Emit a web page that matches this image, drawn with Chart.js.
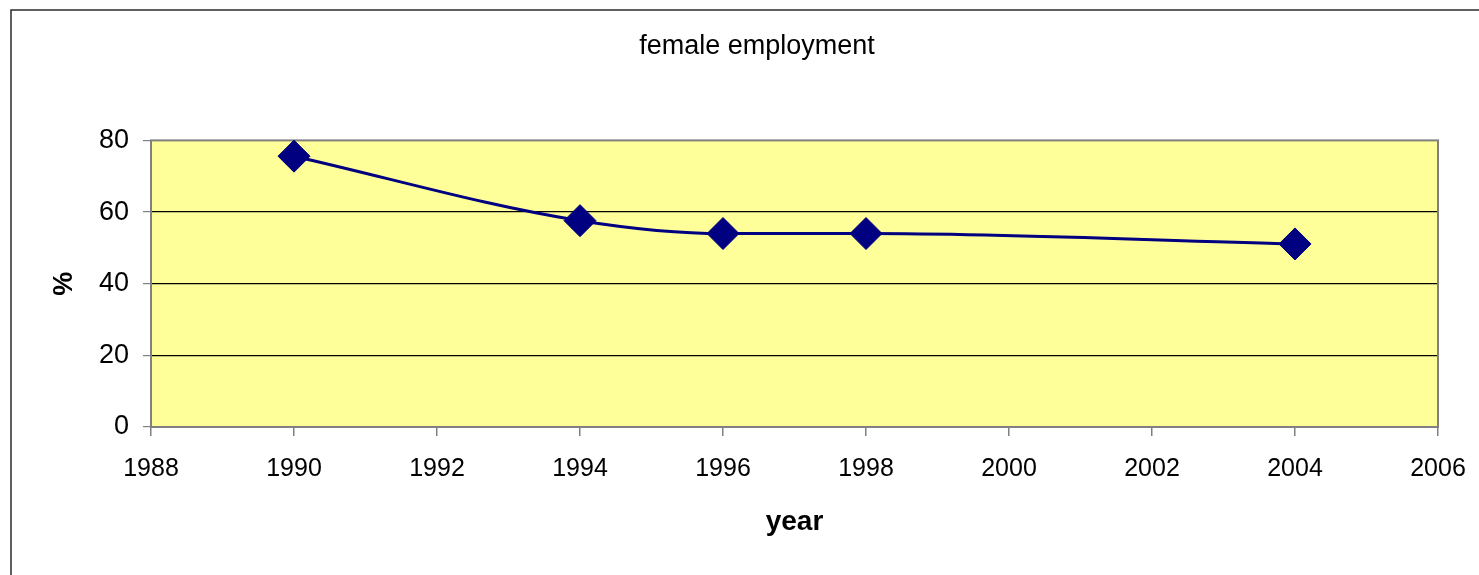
<!DOCTYPE html>
<html>
<head>
<meta charset="utf-8">
<script src="https://cdn.jsdelivr.net/npm/chart.js@4.4.1/dist/chart.umd.min.js"></script>
<style>
  html, body { margin: 0; padding: 0; background: #fff; }
  #chart { display: block; }
</style>
</head>
<body>
<canvas id="chart" width="1479" height="575"></canvas>
<script>
// data
const years = [1990, 1994, 1996, 1998, 2004];
const employment = [75.6, 57.6, 54.0, 54.0, 51.1];
const xTicks = [1988, 1990, 1992, 1994, 1996, 1998, 2000, 2002, 2004, 2006];
const yTicks = [0, 20, 40, 60, 80];

const baseFont = '"Liberation Sans", Arial, sans-serif';

// yellow plot area, grey plot border and the outer frame
const plotFrame = {
  id: "plotFrame",
  beforeDraw(chart) {
    const { ctx, chartArea: a, width, height } = chart;
    ctx.save();
    ctx.fillStyle = "#ffffff";
    ctx.fillRect(0, 0, width, height);
    ctx.strokeStyle = "#2b2b2b";
    ctx.lineWidth = 1.5;
    ctx.beginPath();
    ctx.moveTo(11, height);
    ctx.lineTo(11, 10);
    ctx.lineTo(width, 10);
    ctx.stroke();
    ctx.fillStyle = "#ffff99";
    ctx.fillRect(a.left, a.top, a.right - a.left, a.bottom - a.top);
    ctx.restore();
  },
  beforeDatasetsDraw(chart) {
    const { ctx, chartArea: a } = chart;
    ctx.save();
    ctx.strokeStyle = "#808080";
    ctx.lineWidth = 2;
    ctx.strokeRect(a.left, a.top, a.right - a.left, a.bottom - a.top);
    ctx.restore();
  },
};

const ctx = document.getElementById("chart").getContext("2d");
new Chart(ctx, {
  type: "line",
  data: {
    datasets: [
      {
        label: "female employment",
        data: years.map((y, i) => ({ x: y, y: employment[i] })),
        borderColor: "#000080",
        backgroundColor: "#000080",
        borderWidth: 3,
        cubicInterpolationMode: "monotone",
        pointStyle: "rectRot",
        pointRadius: 16,
        pointBorderWidth: 1,
        pointBackgroundColor: "#000080",
        pointBorderColor: "#000080",
        clip: false,
      },
    ],
  },
  options: {
    responsive: false,
    animation: false,
    layout: { padding: { left: 35, right: 0, top: 0, bottom: 0 } },
    plugins: {
      legend: { display: false },
      tooltip: { enabled: false },
      title: {
        display: true,
        text: "female employment",
        color: "#000",
        font: { family: baseFont, size: 27, weight: "normal", lineHeight: 1.2 },
        padding: { top: 30, bottom: 78 },
      },
    },
    scales: {
      x: {
        type: "linear",
        min: 1988,
        max: 2006,
        afterBuildTicks: (scale) => {
          scale.ticks = xTicks.map((v) => ({ value: v }));
        },
        afterFit: (scale) => {
          scale.height = 148;
          // edge labels may overhang; don't let them shrink the plot
          scale.paddingLeft = 0;
          scale.paddingRight = 0;
        },
        grid: {
          drawOnChartArea: false,
          drawTicks: true,
          tickLength: 9,
          tickColor: "#808080",
          lineWidth: 1.5,
        },
        border: { display: false },
        ticks: {
          color: "#000",
          padding: 18,
          maxRotation: 0,
          autoSkip: false,
          font: { family: baseFont, size: 25 },
          callback: (v) => String(v),
        },
        title: {
          display: true,
          text: "year",
          color: "#000",
          font: { family: baseFont, size: 28, weight: "bold", lineHeight: 1.2 },
          padding: 36,
        },
      },
      y: {
        min: 0,
        max: 80,
        afterBuildTicks: (scale) => {
          scale.ticks = yTicks.map((v) => ({ value: v }));
        },
        afterFit: (scale) => {
          scale.width = 116;
        },
        grid: {
          color: (c) => (c.tick && c.tick.value > 0 && c.tick.value < 80 ? "#000000" : "rgba(0,0,0,0)"),
          tickColor: "#808080",
          drawTicks: true,
          tickLength: 8,
          lineWidth: 1.2,
        },
        border: { display: false },
        ticks: {
          color: "#000",
          padding: 14,
          font: { family: baseFont, size: 27 },
          callback: (v) => String(v),
        },
        title: {
          display: true,
          text: "%",
          color: "#000",
          font: { family: baseFont, size: 27, weight: "bold", lineHeight: 1.2 },
          padding: 13,
        },
      },
      // empty spacer on the right so the plot ends where the reference does
      spacer: {
        type: "linear",
        position: "right",
        display: true,
        afterFit: (scale) => {
          scale.width = 41;
        },
        grid: { display: false },
        border: { display: false },
        ticks: { display: false },
      },
    },
  },
  plugins: [plotFrame],
});
</script>
</body>
</html>
